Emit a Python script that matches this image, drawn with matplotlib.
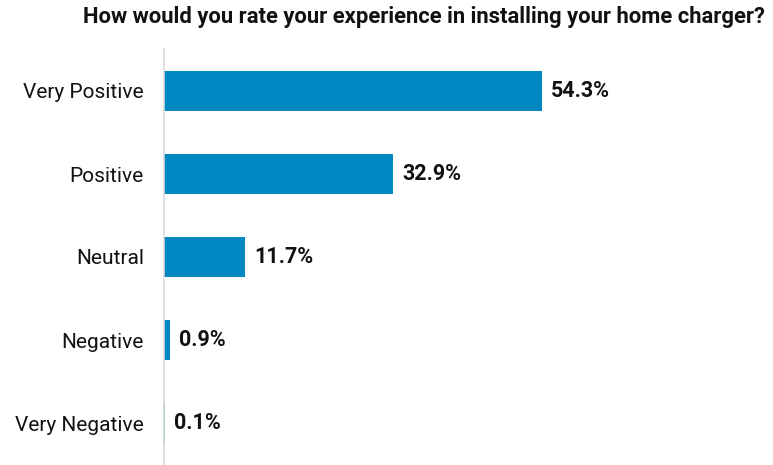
import matplotlib
matplotlib.use("Agg")
import matplotlib.pyplot as plt

categories = ["Very Positive", "Positive", "Neutral", "Negative", "Very Negative"]
values = [54.3, 32.9, 11.7, 0.9, 0.1]
value_labels = ["54.3%", "32.9%", "11.7%", "0.9%", "0.1%"]
title = "How would you rate your experience in installing your home charger?"

plt.rcParams['font.family'] = ['Roboto', 'DejaVu Sans']

fig = plt.figure(figsize=(7.73, 4.65), dpi=100)
ax = fig.add_axes([164/773, 0.5/465, (763-164)/773, (464.5-49.5)/465])

y = list(range(len(categories)))
ax.barh(y, values, height=0.47, color="#0088C2")
ax.set_ylim(len(categories) - 0.5, -0.5)
ax.set_xlim(0, (763-164)/6.96)

for yi, v, lab in zip(y, values, value_labels):
    ax.annotate(lab, (v, yi), xytext=(9, 0), textcoords="offset pixels",
                va="center", ha="left", fontsize=15.5, fontweight="bold", color="#111111")

ax.set_yticks(y)
ax.set_yticklabels(categories, fontsize=15, color="#111111")
ax.tick_params(axis="y", length=0, pad=14.5)
ax.set_xticks([])
for s in ["top", "right", "bottom"]:
    ax.spines[s].set_visible(False)
ax.spines["left"].set_color("#d9d9d9")
ax.spines["left"].set_linewidth(1.2)

fig.text(765/773, 1 - 17/465, title, ha="right", va="center", fontsize=15.8,
         fontweight="bold", color="#111111")

fig.savefig("out.png", dpi=100)
